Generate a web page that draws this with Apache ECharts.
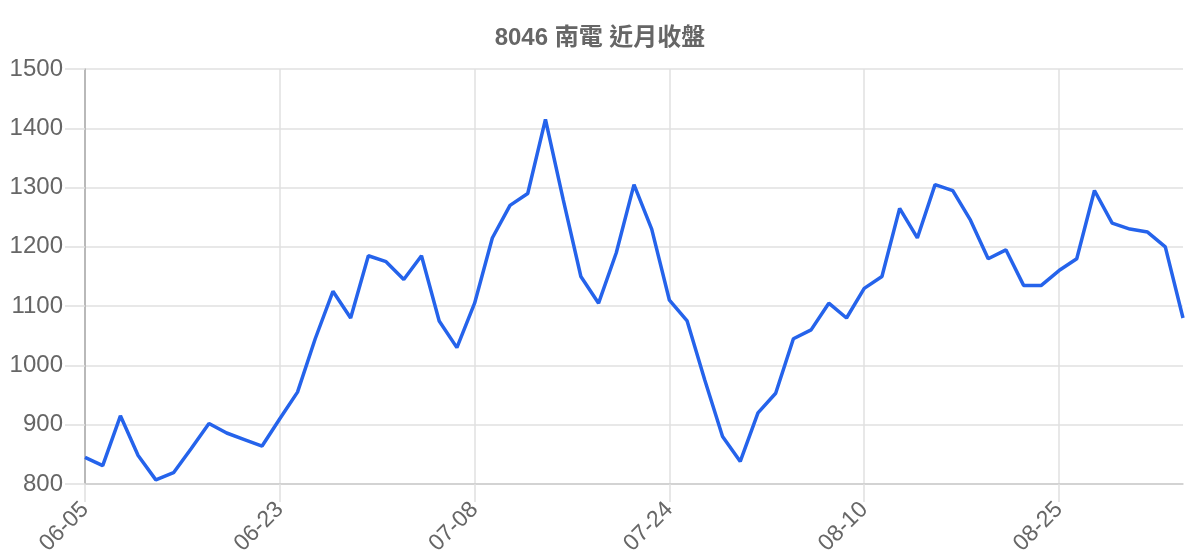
<!DOCTYPE html>
<html>
<head>
<meta charset="utf-8">
<title>8046 南電 近月收盤</title>
<script src="https://cdn.jsdelivr.net/npm/echarts@6/dist/echarts.min.js"></script>
<style>
    html, body { margin: 0; padding: 0; background: #fff; }
    #chart { width: 1200px; height: 560px; }
</style>
</head>
<body>
<div id="chart"></div>
<script>
// trading days shown on the x axis
const dates = [
    '06-05', '06-06', '06-09', '06-10', '06-11', '06-12', '06-13', '06-16', '06-17', '06-18', '06-20',
    '06-23', '06-24', '06-25', '06-26', '06-27', '06-30', '07-01', '07-02', '07-03', '07-04', '07-07',
    '07-08', '07-09', '07-10', '07-11', '07-14', '07-15', '07-16', '07-17', '07-18', '07-21', '07-22',
    '07-24', '07-25', '07-28', '07-29', '07-30', '07-31', '08-01', '08-04', '08-05', '08-06', '08-07',
    '08-10', '08-11', '08-12', '08-13', '08-14', '08-15', '08-18', '08-19', '08-20', '08-21', '08-22',
    '08-25', '08-26', '08-27', '08-28', '08-29', '09-01', '09-02', '09-03'
];

// closing prices
const closes = [
    845, 831, 915, 848, 807, 819, 860, 902, 886, 875, 864,
    910, 955, 1045, 1125, 1080, 1185, 1175, 1145, 1185, 1075, 1030,
    1105, 1215, 1270, 1290, 1415, 1280, 1150, 1105, 1190, 1305, 1230,
    1110, 1075, 975, 880, 838, 920, 953, 1045, 1060, 1105, 1080,
    1130, 1150, 1265, 1215, 1305, 1295, 1245, 1180, 1195, 1135, 1135,
    1160, 1180, 1295, 1240, 1230, 1225, 1200, 1080
];

const gridColor = '#e0e0e0';
const textColor = '#666';

let myChart = echarts.init(document.getElementById('chart'));

let option = {
    animation: false,
    title: {
        text: '8046 南電 近月收盤',
        left: 'center',
        top: 21,
        textStyle: {
            color: textColor,
            fontSize: 24,
            fontWeight: 'bold',
            fontFamily: '"Liberation Sans", "Noto Sans CJK TC", sans-serif'
        }
    },
    grid: {
        left: 85,
        right: 17,
        top: 69,
        bottom: 76
    },
    xAxis: {
        type: 'category',
        data: dates,
        boundaryGap: false,
        axisLine: { lineStyle: { color: '#cccccc', width: 1.5 } },
        axisTick: {
            show: true,
            interval: 10,
            length: 18,
            lineStyle: { color: gridColor, width: 1.5 }
        },
        axisLabel: {
            interval: 10,
            rotate: 45,
            margin: 22,
            color: textColor,
            fontSize: 23,
            fontFamily: '"Liberation Sans", sans-serif'
        },
        splitLine: {
            show: true,
            interval: 10,
            lineStyle: { color: gridColor, width: 1.5 }
        }
    },
    yAxis: {
        type: 'value',
        min: 800,
        max: 1500,
        interval: 100,
        axisLine: { show: true, lineStyle: { color: '#aaaaaa', width: 1.5 } },
        axisTick: {
            show: true,
            length: 20,
            lineStyle: { color: gridColor, width: 1.5 }
        },
        axisLabel: {
            margin: 22,
            color: textColor,
            fontSize: 24,
            fontFamily: '"Liberation Sans", sans-serif',
            formatter: function (v) { return String(v); }
        },
        splitLine: {
            lineStyle: { color: gridColor, width: 1.5 }
        }
    },
    series: [
        {
            name: '收盤',
            type: 'line',
            data: closes,
            showSymbol: false,
            lineStyle: { color: '#2563eb', width: 3.5 },
            itemStyle: { color: '#2563eb' }
        }
    ]
};

myChart.setOption(option);
</script>
</body>
</html>
